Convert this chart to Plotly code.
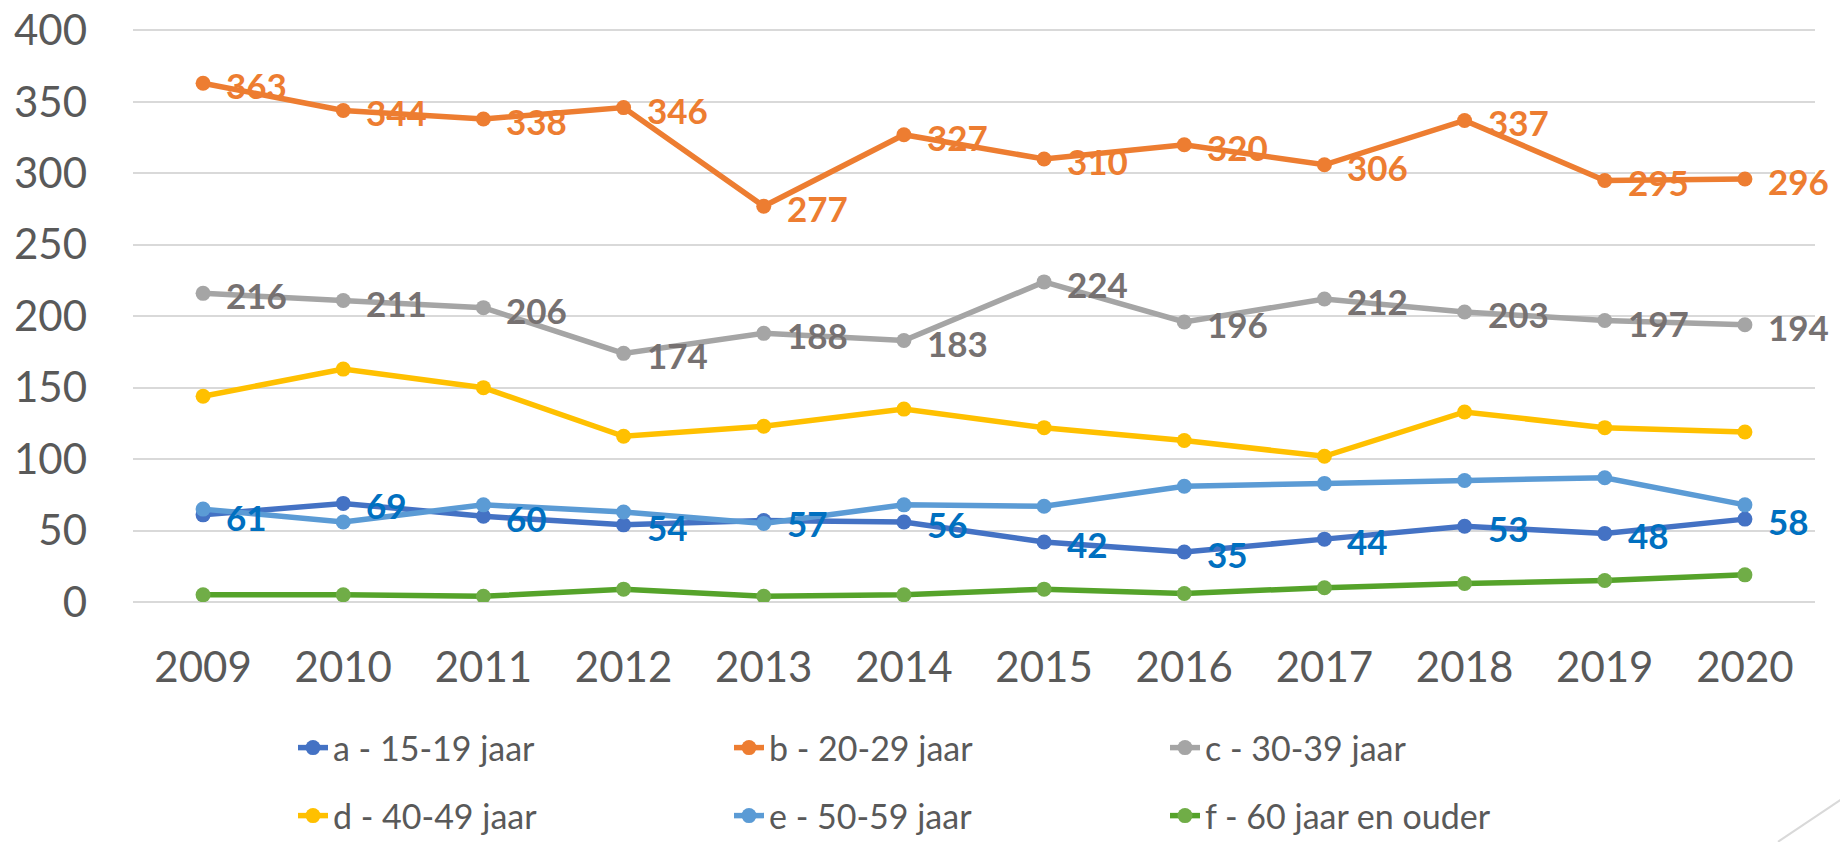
import plotly.graph_objects as go

years = ["2009", "2010", "2011", "2012", "2013", "2014", "2015", "2016", "2017", "2018", "2019", "2020"]

a_15_19 = [61, 69, 60, 54, 57, 56, 42, 35, 44, 53, 48, 58]
b_20_29 = [363, 344, 338, 346, 277, 327, 310, 320, 306, 337, 295, 296]
c_30_39 = [216, 211, 206, 174, 188, 183, 224, 196, 212, 203, 197, 194]
d_40_49 = [144, 163, 150, 116, 123, 135, 122, 113, 102, 133, 122, 119]
e_50_59 = [65, 56, 68, 63, 55, 68, 67, 81, 83, 85, 87, 68]
f_60_plus = [5, 5, 4, 9, 4, 5, 9, 6, 10, 13, 15, 19]

names = ["a - 15-19 jaar", "b - 20-29 jaar", "c - 30-39 jaar",
         "d - 40-49 jaar", "e - 50-59 jaar", "f - 60 jaar en ouder"]
series = [a_15_19, b_20_29, c_30_39, d_40_49, e_50_59, f_60_plus]
line_colors = ["#4472C4", "#ED7D31", "#A5A5A5", "#FFC000", "#5B9BD5", "#55A32A"]
marker_colors = ["#4472C4", "#ED7D31", "#A5A5A5", "#FFC000", "#5B9BD5", "#70AD47"]
legend_ids = ["legend", "legend", "legend", "legend2", "legend2", "legend2"]

# labelled series: (values, label colour)
labelled = [(b_20_29, "#ED7D31"), (c_30_39, "#767171"), (a_15_19, "#0070C0")]

FONT = "Lato"
W, H = 1840, 842

Y_MAX = 401  # a hair above 400 so the 400 gridline is drawn

fig = go.Figure()
for name, vals, lc, mc, lg in zip(names, series, line_colors, marker_colors, legend_ids):
    fig.add_trace(go.Scatter(
        x=years, y=vals, name=name, mode="lines+markers",
        line=dict(color=lc, width=5.5),
        marker=dict(color=mc, size=15),
        legend=lg,
    ))

annotations = []
for vals, col in labelled:
    for i, v in enumerate(vals):
        annotations.append(dict(
            x=i, y=v, xref="x", yref="y", text=str(v), showarrow=False,
            xanchor="left", yanchor="middle", xshift=21, yshift=-2,
            font=dict(family=FONT, size=35, color=col, weight="bold"),
        ))

legend_common = dict(
    orientation="h", xref="container", yref="container",
    xanchor="left", yanchor="middle",
    font=dict(family=FONT, size=34, color="#595959"),
    entrywidth=391, bgcolor="rgba(0,0,0,0)",
)

# plot area in window pixels: x 133..1815, y (400 at 30) .. (0 at 602)
px_per_unit = (602 - 30) / 400
top_px = 602 - Y_MAX * px_per_unit
L, T, R, B = 133, top_px, 1840 - 1815, 842 - 602

fig.update_layout(
    width=W, height=H,
    margin=dict(l=L, r=R, t=T, b=B, autoexpand=False),
    paper_bgcolor="white", plot_bgcolor="white",
    font=dict(family=FONT, color="#595959"),
    xaxis=dict(
        type="category", range=[-0.5, 11.5], showgrid=False, showline=False,
        ticks="", tickfont=dict(family=FONT, size=42, color="#595959"),
        ticklabelstandoff=37, zeroline=False, automargin=False,
    ),
    yaxis=dict(
        range=[0, Y_MAX], dtick=50, tick0=0, showgrid=True, gridcolor="#D9D9D9",
        gridwidth=1.5, zeroline=True, zerolinecolor="#D9D9D9", zerolinewidth=1.5,
        showline=False, ticks="", tickfont=dict(family=FONT, size=42, color="#595959"),
        ticklabelstandoff=45, automargin=False, ticklabeloverflow="allow",
    ),
    showlegend=True,
    legend=dict(x=293 / W, y=1 - 748 / H, **legend_common),
    legend2=dict(x=293 / W, y=1 - 816 / H, **legend_common),
    annotations=annotations,
    shapes=[dict(type="line", xref="paper", yref="paper",
                 x0=(1778 - 133) / 1682, y0=(602 - 842) / (602 - top_px),
                 x1=(1845 - 133) / 1682, y1=(602 - 797) / (602 - top_px),
                 line=dict(color="#D9D9D9", width=2))],
)

fig.write_html("out.html", config={"displayModeBar": False},
               post_script="document.body.style.margin='0';")
